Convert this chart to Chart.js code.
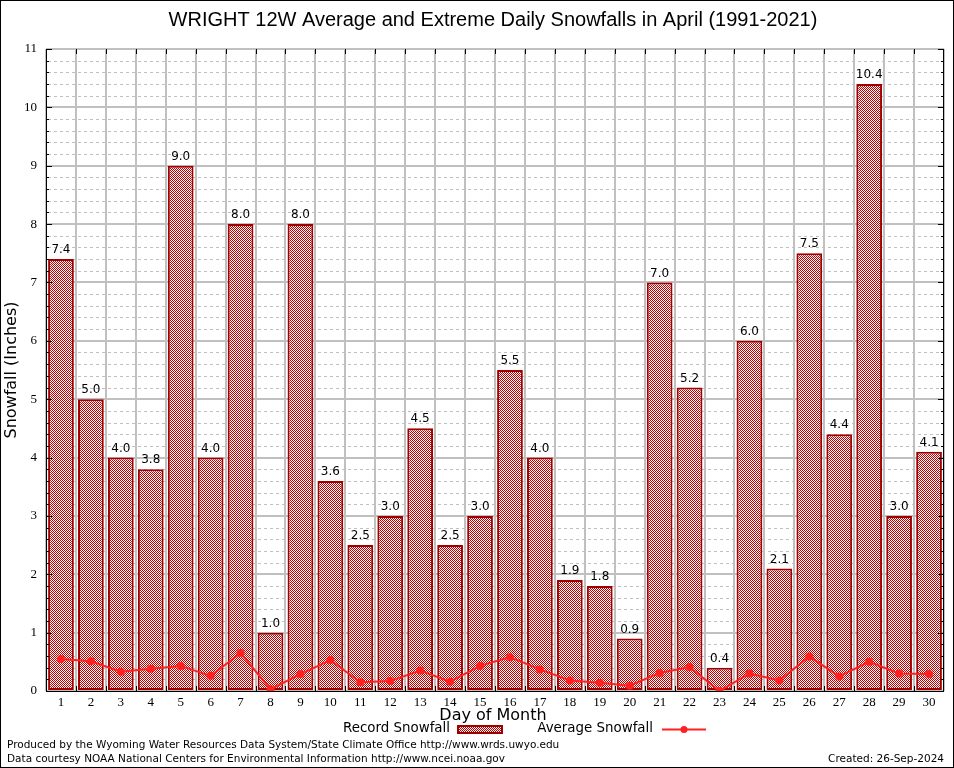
<!DOCTYPE html>
<html>
<head>
<meta charset="utf-8">
<script src="https://cdn.jsdelivr.net/npm/chart.js@4.4.1/dist/chart.umd.min.js"></script>
<style>
  html, body { margin: 0; padding: 0; background: #fff; }
  #wrap { position: relative; width: 954px; height: 768px; }
  canvas { display: block; }
</style>
</head>
<body>
<div id="wrap"><canvas id="c" width="954" height="768"></canvas></div>
<script>
const days = ['1','2','3','4','5','6','7','8','9','10','11','12','13','14','15','16','17','18','19','20','21','22','23','24','25','26','27','28','29','30'];
const recordSnowfall = [7.4,5.0,4.0,3.8,9.0,4.0,8.0,1.0,8.0,3.6,2.5,3.0,4.5,2.5,3.0,5.5,4.0,1.9,1.8,0.9,7.0,5.2,0.4,6.0,2.1,7.5,4.4,10.4,3.0,4.1];
const averageSnowfall = [0.55,0.51,0.33,0.38,0.43,0.26,0.65,0.03,0.29,0.53,0.15,0.17,0.35,0.16,0.43,0.58,0.37,0.18,0.14,0.09,0.31,0.41,0.0,0.30,0.18,0.59,0.25,0.50,0.30,0.29];
const yTicks = [0,1,2,3,4,5,6,7,8,9,10,11];

const titleText = 'WRIGHT 12W Average and Extreme Daily Snowfalls in April (1991-2021)';
const xTitle = 'Day of Month';
const yTitle = 'Snowfall (Inches)';
const footer1 = 'Produced by the Wyoming Water Resources Data System/State Climate Office http://www.wrds.uwyo.edu';
const footer2 = 'Data courtesy NOAA National Centers for Environmental Information http://www.ncei.noaa.gov';
const createdText = 'Created: 26-Sep-2024';

const BAR_RED = '#c00000';
const BAR_BORDER = '#a00000';
const LINE_RED = '#ff2020';
const GRID = '#c0c0c0';

// checker pattern
const pc = document.createElement('canvas');
pc.width = 2; pc.height = 2;
const pctx = pc.getContext('2d');
pctx.fillStyle = '#ffffff'; pctx.fillRect(0,0,2,2);
pctx.fillStyle = BAR_RED; pctx.fillRect(0,0,1,1); pctx.fillRect(1,1,1,1);
const ctx0 = document.getElementById('c').getContext('2d');
const pattern = ctx0.createPattern(pc, 'repeat');

const decorPlugin = {
  id: 'decor',
  beforeDatasetsDraw(chart) {
    const {ctx, chartArea: a, scales: {y}} = chart;
    ctx.save();
    ctx.strokeStyle = GRID;
    ctx.lineWidth = 1;
    ctx.setLineDash([3,3]);
    for (let i = 1; i < 55; i++) {
      if (i % 5 === 0) continue;
      const py = Math.round(y.getPixelForValue(i / 5)) + 0.5;
      ctx.beginPath();
      ctx.moveTo(a.left + 2, py);
      ctx.lineTo(a.right - 2, py);
      ctx.stroke();
    }
    ctx.restore();
  },
  afterDatasetsDraw(chart) {
    const {ctx, chartArea: a, scales: {x, y}} = chart;
    ctx.save();
    // data labels
    const meta = chart.getDatasetMeta(1);
    ctx.font = '12px "DejaVu Sans"';
    ctx.fillStyle = '#000';
    ctx.textAlign = 'center';
    ctx.textBaseline = 'bottom';
    meta.data.forEach((bar, i) => {
      ctx.fillText(recordSnowfall[i].toFixed(1), bar.x, bar.y - 3);
    });
    // axis frame
    ctx.strokeStyle = '#000';
    ctx.lineWidth = 1;
    ctx.beginPath();
    ctx.moveTo(a.left + 0.5, a.top); ctx.lineTo(a.left + 0.5, a.bottom + 0.5);
    ctx.lineTo(a.right - 0.5, a.bottom + 0.5); ctx.lineTo(a.right - 0.5, a.top);
    ctx.stroke();
    // y ticks
    for (let i = 0; i <= 55; i++) {
      const py = Math.round(y.getPixelForValue(i / 5)) + 0.5;
      const len = (i % 5 === 0) ? 6 : 3;
      ctx.beginPath();
      ctx.moveTo(a.left, py); ctx.lineTo(a.left + len, py);
      ctx.moveTo(a.right, py); ctx.lineTo(a.right - len, py);
      ctx.stroke();
    }
    // x ticks at category boundaries
    for (let i = 1; i < days.length; i++) {
      const px = Math.round((x.getPixelForValue(i - 1) + x.getPixelForValue(i)) / 2) + 0.5;
      ctx.beginPath();
      ctx.moveTo(px, a.bottom); ctx.lineTo(px, a.bottom - 5);
      ctx.moveTo(px, a.top); ctx.lineTo(px, a.top + 5);
      ctx.stroke();
    }
    ctx.restore();
  },
  afterDraw(chart) {
    const {ctx, chartArea: a} = chart;
    const cx = (a.left + a.right) / 2;
    ctx.save();
    ctx.fillStyle = '#000';
    // title
    ctx.font = '20px "Liberation Sans"';
    ctx.textAlign = 'center';
    ctx.textBaseline = 'middle';
    ctx.fillText(titleText, cx - 2, 20);
    // x title
    ctx.font = '16px "DejaVu Sans"';
    ctx.fillText(xTitle, cx - 2, 716);
    // y title
    ctx.save();
    ctx.translate(12, 370);
    ctx.rotate(-Math.PI / 2);
    ctx.fillText(yTitle, 0, 0);
    ctx.restore();
    // legend
    ctx.font = '13.4px "DejaVu Sans"';
    ctx.textAlign = 'right';
    ctx.fillText('Record Snowfall', 450, 729);
    ctx.fillStyle = pattern;
    ctx.fillRect(457, 726, 45, 7);
    ctx.strokeStyle = BAR_BORDER;
    ctx.lineWidth = 2;
    ctx.strokeRect(458, 726, 44, 7);
    ctx.fillStyle = '#000';
    ctx.fillText('Average Snowfall', 653, 729);
    ctx.strokeStyle = LINE_RED;
    ctx.lineWidth = 2;
    ctx.beginPath(); ctx.moveTo(662, 729.5); ctx.lineTo(706, 729.5); ctx.stroke();
    ctx.fillStyle = LINE_RED;
    ctx.beginPath(); ctx.arc(684, 729.5, 3.5, 0, Math.PI * 2); ctx.fill();
    // footer
    ctx.fillStyle = '#000';
    ctx.font = '10.5px "DejaVu Sans"';
    ctx.textAlign = 'left';
    ctx.fillText(footer1, 7, 745);
    ctx.fillText(footer2, 7, 759);
    ctx.textAlign = 'right';
    ctx.fillText(createdText, 944, 759);
    // outer border
    ctx.strokeStyle = '#000';
    ctx.lineWidth = 1;
    ctx.strokeRect(0.5, 0.5, 953, 767);
    ctx.restore();
  }
};

new Chart(ctx0, {
  type: 'bar',
  data: {
    labels: days,
    datasets: [
      {
        type: 'line',
        label: 'Average Snowfall',
        data: averageSnowfall,
        borderColor: LINE_RED,
        backgroundColor: LINE_RED,
        borderWidth: 2,
        pointRadius: 4,
        pointBackgroundColor: LINE_RED,
        pointBorderWidth: 0,
        tension: 0,
        order: 0
      },
      {
        type: 'bar',
        label: 'Record Snowfall',
        data: recordSnowfall,
        backgroundColor: pattern,
        borderColor: BAR_BORDER,
        borderWidth: 2,
        borderSkipped: false,
        categoryPercentage: 1.0,
        barPercentage: 0.86,
        order: 1
      }
    ]
  },
  options: {
    responsive: false,
    devicePixelRatio: 1,
    animation: false,
    events: [],
    layout: { padding: { left: 0, top: 49, right: 10, bottom: 0 } },
    plugins: {
      legend: { display: false },
      tooltip: { enabled: false },
      title: { display: false }
    },
    scales: {
      x: {
        offset: true,
        grid: { offset: true, color: GRID, lineWidth: 2, drawTicks: false },
        border: { display: false },
        ticks: { font: { family: '"Liberation Serif"', size: 13 }, color: '#000', padding: 4, maxRotation: 0, autoSkip: false },
        afterFit(s) { s.height = 77; }
      },
      y: {
        min: 0,
        max: 11,
        afterBuildTicks(s) { s.ticks = yTicks.map(v => ({ value: v })); },
        grid: { color: GRID, lineWidth: 2, drawTicks: false },
        border: { display: false },
        ticks: { font: { family: '"Liberation Serif"', size: 13 }, color: '#000', padding: 9 },
        afterFit(s) { s.width = 46; }
      }
    }
  },
  plugins: [decorPlugin]
});
</script>
</body>
</html>
